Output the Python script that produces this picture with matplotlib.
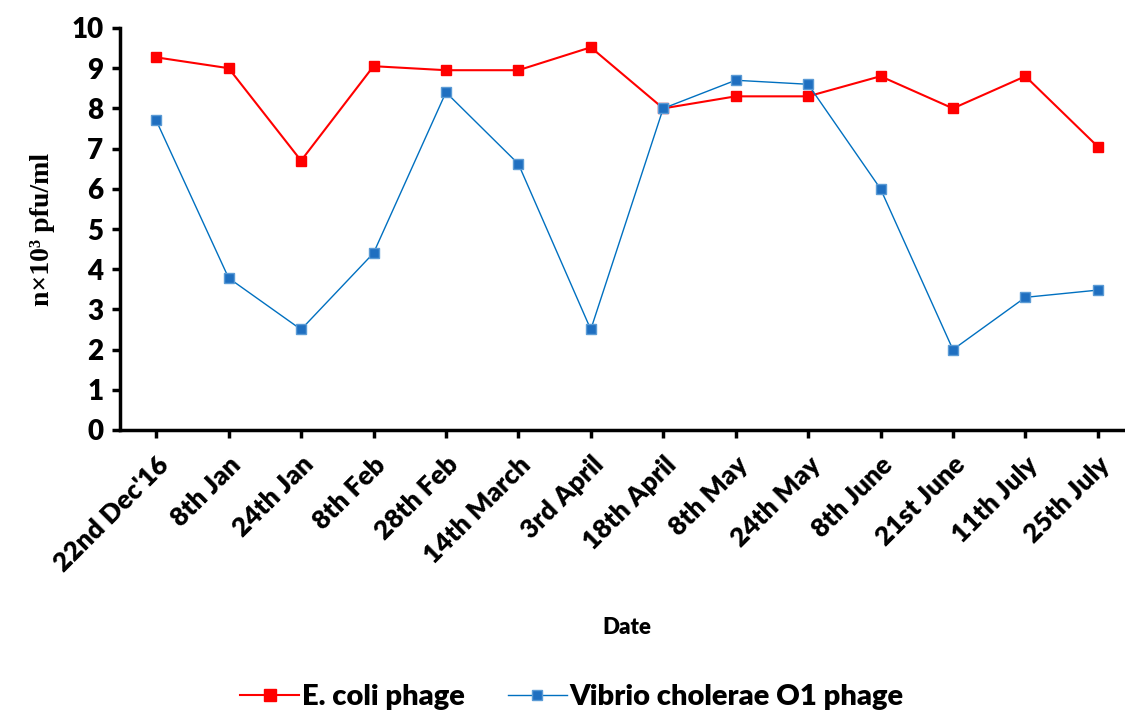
import matplotlib.pyplot as plt
import numpy as np

dates = ["22nd Dec'16", "8th Jan", "24th Jan", "8th Feb", "28th Feb", "14th March",
         "3rd April", "18th April", "8th May", "24th May", "8th June", "21st June",
         "11th July", "25th July"]
ecoli = [9.27, 9.0, 6.7, 9.05, 8.95, 8.95, 9.52, 8.0, 8.3, 8.3, 8.8, 8.0, 8.8, 7.05]
vibrio = [7.7, 3.78, 2.5, 4.4, 8.4, 6.62, 2.5, 8.0, 8.7, 8.6, 6.0, 2.0, 3.3, 3.48]

fig = plt.figure(figsize=(11.25, 7.15), dpi=100)
ax = fig.add_axes([120 / 1125, 1 - 430 / 715, 1014 / 1125, 402 / 715])

x = np.arange(len(dates))
ax.plot(x, ecoli, color='#ff0000', lw=1.5, marker='s', markersize=7,
        markerfacecolor='#ff0000', markeredgecolor='#ff0000', label='E. coli phage')
ax.plot(x, vibrio, color='#0070c0', lw=1.0, marker='s', markersize=6.5,
        markerfacecolor='#1f6fc0', markeredgecolor='#5b9bd5', markeredgewidth=1,
        label='Vibrio cholerae O1 phage')

ax.set_xlim(-0.5, len(dates) - 0.5)
ax.set_ylim(0, 10)
ax.set_yticks(range(0, 11))
ax.set_xticks(x)
ax.set_xticklabels(dates, rotation=45, ha='right', rotation_mode='anchor',
                   fontfamily='Lato', fontweight='heavy', fontsize=19)
for lab in ax.get_yticklabels():
    lab.set_fontfamily('Lato')
    lab.set_fontweight('heavy')
    lab.set_fontsize(20)

for side in ('top', 'right'):
    ax.spines[side].set_visible(False)
for side in ('left', 'bottom'):
    ax.spines[side].set_linewidth(2.5)
ax.tick_params(axis='both', direction='out', length=6, width=2.5, pad=6)
ax.tick_params(axis='x', pad=10)

ax.set_ylabel('n×10³ pfu/ml', fontfamily='Liberation Serif', fontweight='bold',
              fontsize=20, labelpad=12)

fig.text(627 / 1125, 1 - 627 / 715, 'Date', ha='center', va='center',
         fontfamily='Lato', fontweight='heavy', fontsize=16)

fig.legend(loc='center', bbox_to_anchor=(572 / 1125, 1 - 697 / 715), ncol=2, frameon=False,
           prop={'family': 'Lato', 'weight': 'heavy', 'size': 21},
           handlelength=2.0, handletextpad=0.1, columnspacing=1.5, markerscale=1.2)

fig.savefig('out.png', dpi=100)
